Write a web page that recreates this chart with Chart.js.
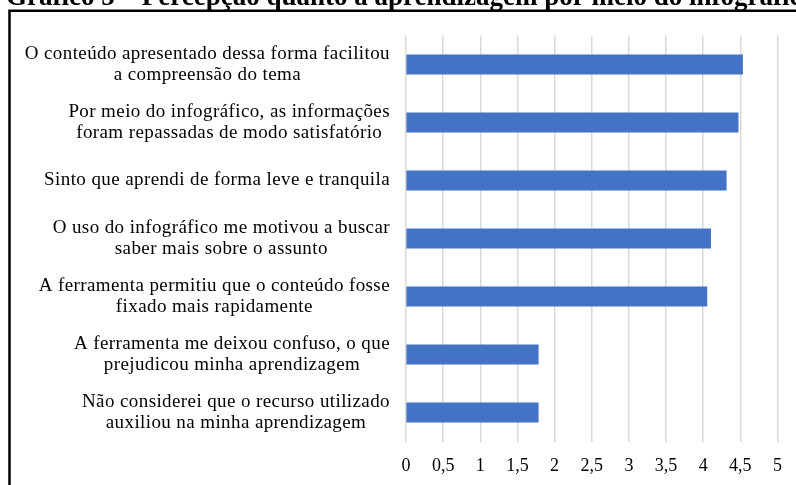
<!DOCTYPE html>
<html>
<head>
<meta charset="utf-8">
<script src="https://cdn.jsdelivr.net/npm/chart.js@4"></script>
<style>
html,body{margin:0;padding:0;background:#fff;}
#wrap{position:relative;width:796px;height:485px;}
canvas{display:block;}
</style>
</head>
<body>
<div id="wrap"><canvas id="c" width="796" height="485"></canvas></div>
<script>
const titleText = "Gráfico 5 – Percepção quanto à aprendizagem por meio do infográfico";
const categories = [
  ["O conteúdo apresentado dessa forma facilitou", "a compreensão do tema"],
  ["Por meio do infográfico, as informações", "foram repassadas de modo satisfatório"],
  ["Sinto que aprendi de forma leve e tranquila"],
  ["O uso do infográfico me motivou a buscar", "saber mais sobre o assunto"],
  ["A ferramenta permitiu que o conteúdo fosse", "fixado mais rapidamente"],
  ["A ferramenta me deixou confuso, o que", "prejudicou minha aprendizagem"],
  ["Não considerei que o recurso utilizado", "auxiliou na minha aprendizagem"]
];
const values = [4.53, 4.47, 4.31, 4.10, 4.05, 1.78, 1.78];
const tickLabels = ["0", "0,5", "1", "1,5", "2", "2,5", "3", "3,5", "4", "4,5", "5"];

const SERIF = '"Liberation Serif", "Times New Roman", serif';

const framePlugin = {
  id: 'frame',
  beforeDraw(chart) {
    const ctx = chart.ctx;
    ctx.save();
    ctx.fillStyle = '#fff';
    ctx.fillRect(0, 0, chart.width, chart.height);
    ctx.strokeStyle = '#000';
    ctx.lineWidth = 2.5;
    ctx.beginPath();
    ctx.moveTo(9.5, chart.height + 5);
    ctx.lineTo(9.5, 10.7);
    ctx.lineTo(chart.width + 5, 10.7);
    ctx.stroke();
    ctx.fillStyle = '#000';
    ctx.font = 'bold 27px ' + SERIF;
    ctx.textAlign = 'left';
    ctx.textBaseline = 'alphabetic';
    ctx.fillText(titleText, 6, 4.5);
    ctx.restore();
  }
};

const labelPlugin = {
  id: 'catLabels',
  afterDraw(chart) {
    const ctx = chart.ctx;
    const y = chart.scales.y;
    const right = chart.chartArea.left - 16;
    const lh = 20.5;
    ctx.save();
    ctx.font = '19px ' + SERIF;
    try { ctx.letterSpacing = '0.4px'; } catch (e) {}
    ctx.fillStyle = '#000';
    ctx.textAlign = 'center';
    ctx.textBaseline = 'middle';
    categories.forEach((lines, i) => {
      const cy = y.getPixelForTick(i);
      const maxW = Math.max(...lines.map(l => ctx.measureText(l).width));
      const cx = right - maxW / 2;
      const y0 = cy - (lines.length - 1) * lh / 2;
      lines.forEach((l, k) => ctx.fillText(l, cx, y0 + k * lh));
    });
    ctx.restore();
  }
};

new Chart(document.getElementById('c'), {
  type: 'bar',
  data: {
    labels: categories,
    datasets: [{
      data: values,
      backgroundColor: '#4472C4',
      borderWidth: 0,
      barThickness: 19.5
    }]
  },
  options: {
    indexAxis: 'y',
    responsive: false,
    animation: false,
    devicePixelRatio: 1,
    layout: { padding: { top: 35.5, right: 18, bottom: 0, left: 0 } },
    plugins: { legend: { display: false }, tooltip: { enabled: false } },
    scales: {
      x: {
        min: 0, max: 5,
        ticks: {
          stepSize: 0.5,
          padding: 14,
          color: '#000',
          font: { family: SERIF, size: 18 },
          callback: (v, i) => tickLabels[i]
        },
        grid: { color: '#d9d9d9', lineWidth: 1.5, drawTicks: false },
        border: { display: false },
        afterFit(scale) { scale.height = 43.5; }
      },
      y: {
        ticks: { display: false },
        grid: { display: false },
        border: { display: false },
        afterFit(scale) { scale.width = 406; }
      }
    }
  },
  plugins: [framePlugin, labelPlugin]
});
</script>
</body>
</html>
